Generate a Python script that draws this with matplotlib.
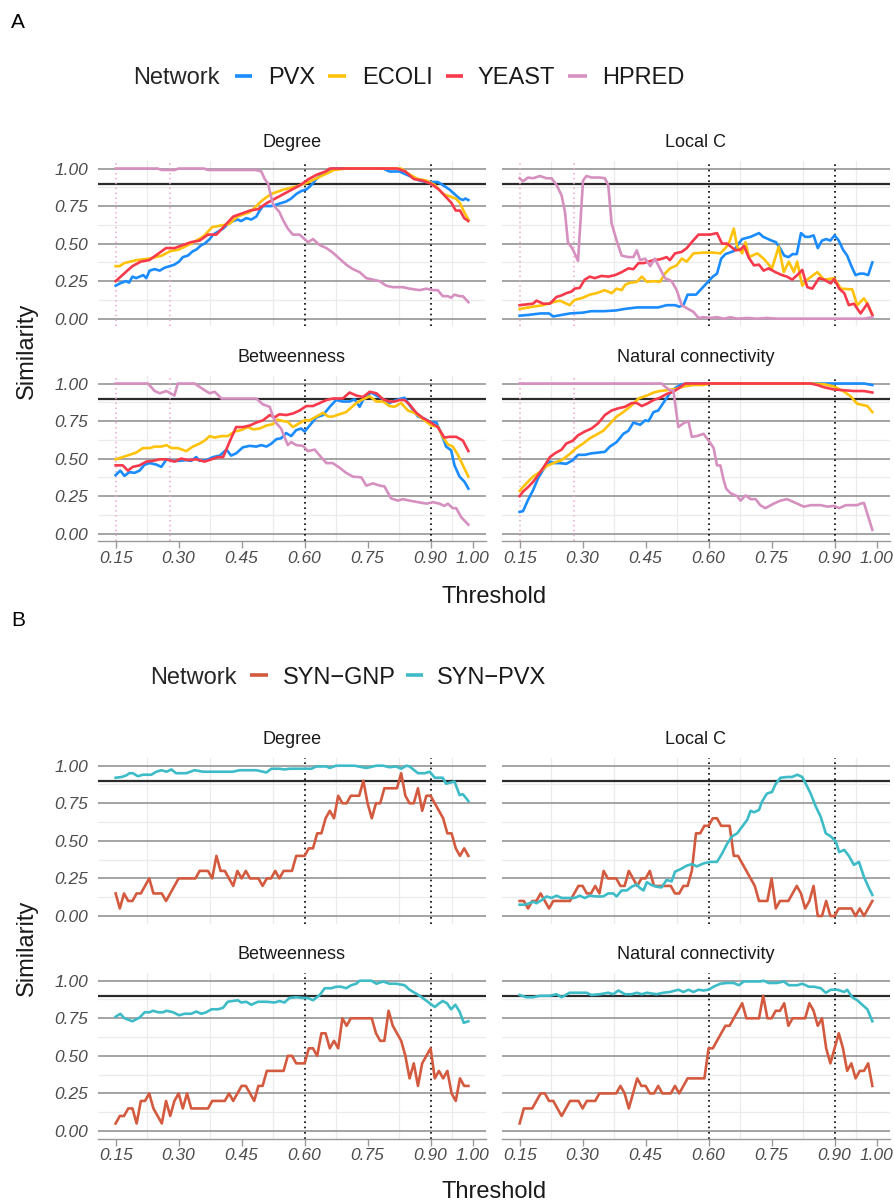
import numpy as np
import matplotlib.pyplot as plt
from matplotlib.lines import Line2D

plt.rcParams['font.family'] = ['Liberation Sans', 'DejaVu Sans']

# ---------------- panel A data (threshold, similarity) ----------------
deg_pvx_t = [0.15,0.164,0.175,0.182,0.190,0.199,0.207,0.216,0.223,0.231,0.243,0.255,0.267,0.279,0.290,0.301,0.310,0.322,0.334,0.342,0.354,0.362,0.374,0.382,0.394,0.406,0.417,0.429,0.441,0.449,0.461,0.473,0.485,0.493,0.501,0.521,0.533,0.544,0.556,0.568,0.580,0.592,0.604,0.616,0.628,0.640,0.652,0.667,0.683,0.787,0.802,0.826,0.842,0.858,0.874,0.890,0.902,0.917,0.929,0.945,0.957,0.969,0.977,0.983,0.99]
deg_pvx_v = [0.22,0.24,0.25,0.24,0.28,0.27,0.28,0.29,0.27,0.32,0.33,0.32,0.34,0.35,0.36,0.38,0.41,0.42,0.45,0.46,0.49,0.50,0.53,0.56,0.58,0.60,0.63,0.65,0.66,0.65,0.67,0.66,0.68,0.72,0.75,0.75,0.76,0.77,0.78,0.80,0.83,0.85,0.86,0.89,0.93,0.96,0.98,1.00,1.00,1.00,0.98,0.98,0.96,0.94,0.92,0.91,0.91,0.91,0.89,0.86,0.83,0.80,0.79,0.80,0.79]
deg_eco_t = [0.15,0.16,0.17,0.20,0.23,0.26,0.28,0.30,0.33,0.36,0.38,0.40,0.42,0.44,0.47,0.50,0.52,0.55,0.58,0.61,0.64,0.67,0.70,0.83,0.85,0.87,0.89,0.91,0.93,0.95,0.96,0.97,0.98,0.99]
deg_eco_v = [0.35,0.35,0.37,0.39,0.40,0.42,0.45,0.46,0.50,0.55,0.61,0.62,0.63,0.68,0.71,0.79,0.83,0.86,0.88,0.91,0.95,0.99,1.00,1.00,0.96,0.93,0.92,0.89,0.83,0.81,0.80,0.77,0.71,0.66]
deg_yst_t = [0.15,0.17,0.19,0.21,0.23,0.25,0.27,0.29,0.31,0.33,0.35,0.37,0.39,0.41,0.43,0.45,0.47,0.49,0.51,0.53,0.55,0.57,0.59,0.61,0.63,0.65,0.66,0.82,0.84,0.86,0.88,0.90,0.92,0.94,0.95,0.96,0.97,0.98,0.99]
deg_yst_v = [0.25,0.30,0.35,0.38,0.39,0.43,0.47,0.47,0.49,0.51,0.52,0.56,0.56,0.62,0.68,0.70,0.72,0.73,0.77,0.80,0.83,0.86,0.89,0.93,0.96,0.98,1.00,1.00,0.98,0.93,0.92,0.90,0.86,0.80,0.77,0.72,0.72,0.67,0.65]
deg_hpr_t = [0.15,0.25,0.26,0.29,0.30,0.36,0.37,0.485,0.497,0.505,0.513,0.517,0.525,0.54,0.548,0.56,0.572,0.588,0.608,0.62,0.636,0.652,0.667,0.683,0.699,0.715,0.731,0.747,0.763,0.779,0.794,0.81,0.834,0.85,0.874,0.89,0.906,0.917,0.929,0.941,0.949,0.957,0.969,0.977,0.99]
deg_hpr_v = [1.0,1.0,0.99,0.99,1.0,1.0,0.99,0.99,0.98,0.93,0.90,0.85,0.76,0.71,0.66,0.60,0.56,0.56,0.51,0.53,0.49,0.47,0.44,0.40,0.36,0.33,0.31,0.27,0.26,0.25,0.22,0.21,0.21,0.20,0.19,0.20,0.19,0.19,0.15,0.15,0.14,0.16,0.15,0.15,0.11]

lc_pvx_t = [0.15,0.17,0.20,0.22,0.23,0.25,0.27,0.30,0.32,0.35,0.38,0.40,0.43,0.45,0.48,0.50,0.52,0.53,0.54,0.55,0.57,0.58,0.60,0.61,0.62,0.63,0.64,0.66,0.67,0.68,0.70,0.72,0.73,0.75,0.76,0.77,0.78,0.79,0.80,0.81,0.82,0.83,0.84,0.85,0.86,0.87,0.88,0.89,0.90,0.91,0.92,0.93,0.94,0.95,0.96,0.97,0.98,0.99]
lc_pvx_v = [0.02,0.025,0.035,0.035,0.015,0.025,0.035,0.04,0.05,0.05,0.055,0.065,0.075,0.075,0.075,0.09,0.09,0.08,0.09,0.16,0.16,0.19,0.25,0.28,0.30,0.40,0.43,0.45,0.495,0.53,0.545,0.57,0.545,0.52,0.51,0.47,0.42,0.41,0.43,0.43,0.57,0.545,0.545,0.555,0.47,0.52,0.53,0.52,0.555,0.52,0.46,0.42,0.35,0.29,0.30,0.30,0.29,0.375]
lc_eco_t = [0.15,0.182,0.206,0.230,0.246,0.269,0.281,0.301,0.317,0.333,0.353,0.369,0.381,0.393,0.401,0.413,0.429,0.441,0.453,0.469,0.484,0.496,0.508,0.524,0.536,0.548,0.564,0.588,0.612,0.628,0.640,0.648,0.660,0.668,0.680,0.688,0.696,0.716,0.731,0.751,0.767,0.779,0.791,0.803,0.811,0.823,0.835,0.859,0.875,0.899,0.915,0.942,0.954,0.970,0.978,0.99]
lc_eco_v = [0.065,0.08,0.09,0.11,0.12,0.09,0.125,0.14,0.16,0.17,0.19,0.17,0.20,0.19,0.225,0.24,0.245,0.28,0.245,0.25,0.245,0.30,0.335,0.355,0.40,0.38,0.435,0.44,0.44,0.435,0.47,0.50,0.60,0.48,0.435,0.51,0.41,0.435,0.40,0.335,0.48,0.31,0.38,0.31,0.38,0.22,0.26,0.31,0.26,0.27,0.20,0.195,0.09,0.135,0.10,0.025]
lc_yst_t = [0.15,0.166,0.182,0.190,0.206,0.222,0.238,0.250,0.261,0.273,0.281,0.293,0.305,0.317,0.329,0.345,0.361,0.377,0.393,0.409,0.421,0.433,0.445,0.457,0.469,0.484,0.500,0.508,0.520,0.536,0.548,0.560,0.576,0.588,0.604,0.620,0.632,0.644,0.664,0.676,0.684,0.696,0.708,0.720,0.731,0.743,0.759,0.775,0.787,0.799,0.811,0.823,0.835,0.847,0.863,0.875,0.891,0.899,0.911,0.923,0.934,0.946,0.962,0.978,0.99]
lc_yst_v = [0.09,0.095,0.10,0.12,0.10,0.10,0.145,0.155,0.17,0.18,0.20,0.205,0.26,0.28,0.27,0.285,0.28,0.29,0.31,0.335,0.33,0.37,0.37,0.38,0.39,0.395,0.41,0.39,0.435,0.445,0.47,0.51,0.56,0.56,0.56,0.57,0.50,0.50,0.455,0.46,0.485,0.405,0.355,0.36,0.32,0.335,0.31,0.29,0.28,0.26,0.29,0.325,0.21,0.20,0.27,0.26,0.235,0.265,0.20,0.17,0.09,0.10,0.035,0.10,0.025]
lc_hpr_t = [0.15,0.158,0.170,0.182,0.198,0.214,0.226,0.238,0.250,0.258,0.265,0.277,0.289,0.301,0.309,0.321,0.341,0.353,0.361,0.369,0.381,0.393,0.409,0.421,0.429,0.437,0.449,0.461,0.472,0.484,0.496,0.512,0.524,0.536,0.548,0.564,0.576,0.588,0.604,0.620,0.636,0.652,0.668,0.692,0.716,0.739,0.763,0.946,0.970,0.99]
lc_hpr_v = [0.935,0.915,0.94,0.935,0.95,0.935,0.935,0.89,0.82,0.71,0.51,0.46,0.385,0.92,0.95,0.94,0.94,0.935,0.89,0.635,0.52,0.42,0.41,0.41,0.455,0.39,0.40,0.35,0.40,0.335,0.27,0.25,0.19,0.09,0.07,0.045,0.005,0.01,0.005,0.01,0.0,0.01,0.0,0.005,0.0,0.005,0.0,0.0,0.0,0.01]

btw_pvx_t = [0.15,0.161,0.171,0.183,0.195,0.207,0.219,0.231,0.247,0.259,0.271,0.287,0.302,0.318,0.330,0.342,0.350,0.366,0.382,0.398,0.414,0.425,0.437,0.453,0.469,0.485,0.497,0.509,0.521,0.533,0.544,0.556,0.568,0.580,0.592,0.600,0.612,0.628,0.644,0.660,0.675,0.691,0.707,0.719,0.731,0.743,0.759,0.771,0.787,0.802,0.818,0.838,0.850,0.870,0.886,0.898,0.914,0.925,0.937,0.949,0.957,0.969,0.981,0.99]
btw_pvx_v = [0.39,0.42,0.385,0.41,0.405,0.42,0.46,0.47,0.46,0.445,0.495,0.485,0.485,0.49,0.485,0.51,0.485,0.49,0.51,0.52,0.56,0.52,0.535,0.575,0.585,0.58,0.59,0.58,0.60,0.63,0.635,0.67,0.65,0.69,0.70,0.68,0.72,0.775,0.79,0.845,0.89,0.88,0.88,0.895,0.845,0.91,0.94,0.92,0.895,0.87,0.89,0.905,0.855,0.78,0.765,0.745,0.74,0.67,0.58,0.555,0.455,0.38,0.345,0.30]
btw_eco_t = [0.15,0.167,0.183,0.199,0.215,0.231,0.243,0.259,0.271,0.283,0.298,0.318,0.334,0.350,0.362,0.374,0.386,0.402,0.417,0.433,0.449,0.465,0.477,0.493,0.509,0.525,0.536,0.548,0.560,0.572,0.584,0.600,0.612,0.628,0.644,0.656,0.667,0.683,0.699,0.711,0.723,0.739,0.755,0.771,0.787,0.802,0.814,0.830,0.846,0.862,0.874,0.890,0.902,0.917,0.929,0.941,0.953,0.965,0.977,0.99]
btw_eco_v = [0.495,0.51,0.525,0.54,0.57,0.57,0.58,0.58,0.59,0.57,0.57,0.55,0.58,0.60,0.62,0.65,0.64,0.65,0.65,0.68,0.69,0.71,0.695,0.70,0.72,0.73,0.76,0.75,0.745,0.71,0.73,0.755,0.755,0.78,0.805,0.78,0.78,0.795,0.81,0.84,0.87,0.895,0.915,0.88,0.88,0.85,0.845,0.87,0.82,0.805,0.78,0.745,0.72,0.715,0.645,0.595,0.58,0.525,0.455,0.38]
btw_yst_t = [0.15,0.167,0.179,0.191,0.207,0.223,0.239,0.255,0.271,0.290,0.306,0.322,0.342,0.362,0.378,0.394,0.406,0.421,0.437,0.453,0.469,0.485,0.501,0.517,0.529,0.540,0.556,0.572,0.588,0.604,0.620,0.636,0.652,0.667,0.691,0.707,0.723,0.739,0.755,0.771,0.787,0.802,0.814,0.826,0.838,0.850,0.866,0.882,0.898,0.917,0.933,0.945,0.961,0.977,0.99]
btw_yst_v = [0.455,0.455,0.42,0.445,0.455,0.48,0.485,0.495,0.495,0.48,0.50,0.49,0.495,0.48,0.495,0.51,0.51,0.61,0.71,0.71,0.72,0.74,0.755,0.79,0.775,0.795,0.79,0.80,0.82,0.85,0.85,0.87,0.89,0.90,0.90,0.94,0.92,0.91,0.945,0.935,0.895,0.88,0.88,0.89,0.89,0.86,0.805,0.77,0.745,0.71,0.64,0.645,0.645,0.62,0.55]
btw_hpr_t = [0.15,0.227,0.243,0.255,0.271,0.290,0.298,0.338,0.362,0.374,0.386,0.402,0.485,0.501,0.517,0.525,0.533,0.544,0.560,0.568,0.580,0.596,0.608,0.624,0.636,0.652,0.667,0.683,0.699,0.715,0.735,0.747,0.763,0.779,0.790,0.806,0.822,0.834,0.850,0.870,0.890,0.906,0.921,0.933,0.941,0.953,0.961,0.973,0.99]
btw_hpr_v = [1.0,1.0,0.95,0.935,0.95,0.92,1.0,1.0,0.955,0.935,0.945,0.90,0.90,0.86,0.845,0.775,0.735,0.70,0.59,0.61,0.59,0.585,0.55,0.56,0.52,0.47,0.47,0.44,0.405,0.38,0.375,0.32,0.335,0.32,0.315,0.235,0.22,0.23,0.22,0.21,0.20,0.21,0.20,0.185,0.20,0.17,0.17,0.11,0.06]

nc_pvx_t = [0.15,0.158,0.170,0.182,0.194,0.206,0.222,0.234,0.246,0.261,0.277,0.289,0.305,0.321,0.337,0.353,0.365,0.381,0.397,0.409,0.421,0.437,0.449,0.457,0.469,0.480,0.492,0.508,0.520,0.536,0.556,0.970,0.99]
nc_pvx_v = [0.145,0.15,0.225,0.29,0.37,0.425,0.48,0.47,0.47,0.465,0.49,0.525,0.525,0.535,0.54,0.545,0.58,0.61,0.665,0.685,0.74,0.725,0.755,0.75,0.81,0.82,0.87,0.935,0.97,0.995,1.0,1.0,0.99]
nc_eco_t = [0.15,0.166,0.182,0.198,0.214,0.230,0.250,0.269,0.285,0.301,0.317,0.333,0.349,0.361,0.381,0.397,0.413,0.433,0.453,0.469,0.484,0.500,0.524,0.540,0.564,0.588,0.604,0.843,0.875,0.899,0.923,0.938,0.954,0.970,0.978,0.99]
nc_eco_v = [0.285,0.335,0.38,0.41,0.45,0.47,0.49,0.53,0.57,0.60,0.635,0.66,0.685,0.72,0.78,0.81,0.845,0.90,0.92,0.94,0.95,0.955,0.965,0.98,0.99,0.99,1.0,1.0,0.995,0.98,0.945,0.915,0.865,0.855,0.85,0.81]
nc_yst_t = [0.15,0.158,0.170,0.182,0.194,0.210,0.222,0.234,0.250,0.261,0.277,0.289,0.305,0.321,0.337,0.353,0.369,0.385,0.401,0.417,0.429,0.441,0.453,0.469,0.484,0.500,0.516,0.532,0.544,0.843,0.859,0.875,0.899,0.923,0.946,0.970,0.99]
nc_yst_v = [0.25,0.28,0.31,0.345,0.39,0.455,0.51,0.535,0.56,0.60,0.62,0.655,0.68,0.70,0.735,0.79,0.82,0.835,0.845,0.87,0.87,0.85,0.865,0.89,0.905,0.93,0.945,0.975,1.0,1.0,0.99,0.975,0.96,0.955,0.95,0.95,0.94]
nc_hpr_t = [0.15,0.488,0.496,0.508,0.516,0.528,0.540,0.552,0.560,0.572,0.588,0.600,0.612,0.620,0.628,0.636,0.642,0.652,0.668,0.676,0.688,0.700,0.712,0.723,0.735,0.755,0.771,0.787,0.803,0.827,0.843,0.867,0.883,0.899,0.911,0.927,0.954,0.962,0.970,0.99]
nc_hpr_v = [1.0,1.0,0.98,0.955,0.955,0.71,0.735,0.75,0.645,0.65,0.665,0.62,0.57,0.455,0.455,0.355,0.30,0.27,0.25,0.22,0.255,0.23,0.23,0.19,0.17,0.20,0.22,0.23,0.21,0.18,0.19,0.19,0.18,0.185,0.17,0.19,0.19,0.20,0.205,0.025]

# ---------------- panel B data ----------------
thresholds = np.round(np.arange(0.15, 0.995, 0.01), 2)  # 0.15 ... 0.99
gnp_deg = [0.15,0.05,0.15,0.10,0.10,0.15,0.15,0.20,0.25,0.15,
           0.15,0.15,0.10,0.15,0.20,0.25,0.25,0.25,0.25,0.25,
           0.30,0.30,0.30,0.25,0.40,0.30,0.30,0.25,0.20,0.30,
           0.25,0.30,0.25,0.25,0.25,0.20,0.25,0.25,0.30,0.25,
           0.30,0.30,0.30,0.40,0.40,0.40,0.45,0.45,0.55,0.55,
           0.65,0.70,0.65,0.80,0.75,0.75,0.80,0.80,0.80,0.90,
           0.75,0.65,0.75,0.75,0.85,0.85,0.85,0.85,0.95,0.80,
           0.75,0.75,0.85,0.70,0.80,0.80,0.75,0.70,0.65,0.55,
           0.55,0.45,0.40,0.45,0.40]
gnp_lc = [0.10,0.10,0.05,0.10,0.10,0.15,0.10,0.05,0.10,0.10,
          0.10,0.10,0.10,0.15,0.20,0.20,0.15,0.15,0.20,0.15,
          0.30,0.25,0.25,0.25,0.20,0.20,0.30,0.25,0.20,0.25,
          0.25,0.30,0.20,0.20,0.20,0.20,0.20,0.15,0.15,0.20,
          0.20,0.30,0.55,0.55,0.60,0.60,0.65,0.65,0.60,0.60,
          0.60,0.40,0.40,0.35,0.30,0.25,0.20,0.10,0.10,0.10,
          0.25,0.05,0.10,0.10,0.10,0.15,0.20,0.15,0.05,0.10,
          0.20,0.00,0.00,0.10,0.00,0.00,0.05,0.05,0.05,0.05,
          0.00,0.05,0.00,0.05,0.10]
gnp_btw = [0.05,0.10,0.10,0.15,0.15,0.05,0.20,0.20,0.25,0.15,
           0.10,0.05,0.20,0.10,0.20,0.25,0.15,0.25,0.15,0.15,
           0.15,0.15,0.15,0.20,0.20,0.20,0.20,0.25,0.20,0.25,
           0.30,0.30,0.25,0.20,0.30,0.30,0.40,0.40,0.40,0.40,
           0.40,0.50,0.50,0.45,0.45,0.45,0.55,0.55,0.50,0.65,
           0.65,0.55,0.60,0.55,0.75,0.70,0.75,0.75,0.75,0.75,
           0.75,0.75,0.65,0.60,0.60,0.80,0.70,0.65,0.60,0.50,
           0.35,0.45,0.30,0.45,0.50,0.55,0.35,0.40,0.35,0.40,
           0.25,0.20,0.35,0.30,0.30]
gnp_nc = [0.05,0.15,0.15,0.15,0.20,0.25,0.25,0.20,0.20,0.15,
          0.10,0.15,0.20,0.20,0.20,0.15,0.20,0.20,0.20,0.25,
          0.25,0.25,0.25,0.25,0.30,0.25,0.15,0.25,0.35,0.30,
          0.30,0.25,0.25,0.30,0.25,0.25,0.25,0.30,0.25,0.30,
          0.35,0.35,0.35,0.35,0.35,0.55,0.55,0.60,0.65,0.70,
          0.70,0.75,0.80,0.85,0.75,0.75,0.75,0.75,0.90,0.75,
          0.75,0.80,0.80,0.85,0.70,0.75,0.75,0.75,0.75,0.85,
          0.80,0.70,0.75,0.55,0.45,0.55,0.65,0.55,0.40,0.45,
          0.35,0.40,0.40,0.45,0.30]

spvx_deg_t = [0.15,0.164,0.175,0.183,0.191,0.203,0.215,0.235,0.247,0.259,0.271,0.283,0.294,0.318,0.338,0.358,0.429,0.445,0.485,0.509,0.521,0.540,0.552,0.564,0.616,0.628,0.652,0.660,0.675,0.719,0.747,0.771,0.787,0.802,0.818,0.830,0.842,0.850,0.870,0.886,0.898,0.910,0.929,0.937,0.957,0.969,0.977,0.99]
spvx_deg_v = [0.92,0.925,0.935,0.95,0.95,0.93,0.94,0.94,0.96,0.97,0.96,0.975,0.95,0.95,0.97,0.96,0.96,0.97,0.97,0.955,0.98,0.98,0.975,0.98,0.98,0.995,0.995,0.985,1.0,1.0,0.985,1.0,1.0,0.99,0.995,0.98,1.0,0.995,0.95,0.95,0.96,0.92,0.92,0.88,0.895,0.805,0.81,0.765]
spvx_lc_t = [0.15,0.162,0.174,0.182,0.190,0.202,0.214,0.226,0.238,0.250,0.269,0.281,0.293,0.305,0.317,0.333,0.349,0.361,0.373,0.381,0.393,0.405,0.417,0.429,0.437,0.445,0.453,0.465,0.476,0.488,0.500,0.512,0.520,0.532,0.548,0.560,0.572,0.588,0.604,0.620,0.632,0.644,0.656,0.668,0.680,0.692,0.700,0.708,0.720,0.727,0.739,0.751,0.759,0.771,0.787,0.799,0.811,0.823,0.835,0.843,0.855,0.867,0.879,0.891,0.903,0.911,0.923,0.934,0.946,0.958,0.970,0.982,0.99]
spvx_lc_v = [0.075,0.075,0.085,0.095,0.085,0.105,0.13,0.12,0.135,0.12,0.12,0.12,0.135,0.12,0.135,0.13,0.13,0.15,0.15,0.13,0.17,0.17,0.195,0.21,0.185,0.17,0.225,0.205,0.195,0.19,0.24,0.23,0.295,0.31,0.335,0.345,0.33,0.35,0.36,0.36,0.415,0.48,0.53,0.55,0.595,0.64,0.70,0.69,0.705,0.76,0.815,0.825,0.875,0.92,0.925,0.925,0.94,0.925,0.86,0.815,0.73,0.66,0.55,0.53,0.495,0.425,0.44,0.40,0.34,0.36,0.26,0.185,0.14]
spvx_btw_t = [0.15,0.161,0.171,0.190,0.207,0.219,0.231,0.239,0.251,0.263,0.271,0.287,0.301,0.314,0.330,0.342,0.354,0.366,0.378,0.394,0.406,0.417,0.429,0.441,0.449,0.461,0.473,0.489,0.509,0.529,0.540,0.552,0.564,0.580,0.596,0.608,0.620,0.636,0.648,0.664,0.675,0.687,0.699,0.711,0.723,0.731,0.759,0.771,0.787,0.802,0.818,0.838,0.850,0.862,0.874,0.886,0.898,0.910,0.921,0.929,0.939,0.949,0.959,0.969,0.979,0.99]
spvx_btw_v = [0.76,0.78,0.75,0.73,0.755,0.79,0.79,0.80,0.79,0.79,0.80,0.79,0.77,0.78,0.78,0.795,0.78,0.79,0.81,0.81,0.82,0.86,0.865,0.87,0.855,0.86,0.84,0.86,0.86,0.855,0.865,0.855,0.885,0.89,0.885,0.885,0.87,0.905,0.95,0.95,0.96,0.96,0.95,0.97,0.98,1.0,1.0,0.98,0.995,0.98,0.98,0.97,0.94,0.92,0.90,0.875,0.85,0.825,0.85,0.865,0.85,0.81,0.84,0.795,0.72,0.73]
spvx_nc_t = [0.15,0.166,0.182,0.198,0.222,0.238,0.250,0.269,0.309,0.321,0.341,0.361,0.373,0.385,0.401,0.417,0.429,0.441,0.453,0.476,0.492,0.508,0.528,0.540,0.552,0.564,0.576,0.588,0.600,0.612,0.628,0.644,0.660,0.672,0.684,0.723,0.731,0.743,0.763,0.779,0.791,0.811,0.823,0.839,0.851,0.867,0.879,0.891,0.907,0.923,0.930,0.942,0.954,0.966,0.978,0.99]
spvx_nc_v = [0.905,0.89,0.89,0.90,0.90,0.91,0.89,0.92,0.92,0.905,0.91,0.92,0.91,0.935,0.91,0.91,0.92,0.91,0.92,0.91,0.92,0.925,0.94,0.925,0.94,0.925,0.94,0.935,0.94,0.96,0.98,0.985,0.985,0.97,0.995,0.995,1.0,0.985,0.985,0.995,0.97,0.97,0.98,0.96,0.96,0.95,0.92,0.94,0.94,0.925,0.94,0.89,0.87,0.84,0.81,0.73]

networks_a = ['PVX', 'ECOLI', 'YEAST', 'HPRED']
colors_a = ['#1a8cff', '#ffc20a', '#f7394b', '#d690c0']
networks_b = ['SYN\u2212GNP', 'SYN\u2212PVX']
colors_b = ['#d35a3e', '#3dbcc7']
x_breaks = [0.15, 0.30, 0.45, 0.60, 0.75, 0.90, 1.00]
x_labels = ['0.15', '0.30', '0.45', '0.60', '0.75', '0.90', '1.00']
x_minor = [0.225, 0.375, 0.525, 0.675, 0.825, 0.95]
y_breaks = [0.0, 0.25, 0.5, 0.75, 1.0]
y_labels = ['0.00', '0.25', '0.50', '0.75', '1.00']
y_minor = [0.125, 0.375, 0.625, 0.875]
pink_cut = [0.15, 0.28]

W, H = 895, 1202
fig = plt.figure(figsize=(W / 100, H / 100), dpi=100)
TXT = '#1a1a1a'
TICK = '#4d4d4d'


def axes_px(x0, y0, x1, y1):
    return fig.add_axes([x0 / W, 1 - y1 / H, (x1 - x0) / W, (y1 - y0) / H])


def facet(ax, title, series, colors, left, bottom, pink):
    ax.set_xlim(0.108, 1.032)
    ax.set_ylim(-0.05, 1.05)
    for s in ax.spines.values():
        s.set_visible(False)
    for y in y_minor:
        ax.axhline(y, color='#ebebeb', lw=0.9, zorder=0)
    for x in x_minor:
        ax.axvline(x, color='#ebebeb', lw=0.9, zorder=0)
    for y in y_breaks:
        ax.axhline(y, color='#8c8c8c', lw=1.1, zorder=0.5)
    ax.axhline(0.9, color='#2b2b2b', lw=1.6, zorder=1)
    for x in (0.6, 0.9):
        ax.axvline(x, color='black', lw=1.2, ls=(0, (1, 2.2)), zorder=1)
    if pink:
        for x in pink_cut:
            ax.axvline(x, color='#eaa6cf', lw=1.1, ls=(0, (1, 2.2)), zorder=1)
    for (t, v), c in zip(series, colors):
        ax.plot(t, v, color=c, lw=1.9, solid_joinstyle='round', zorder=3)

    ax.set_xticks(x_breaks)
    ax.set_yticks(y_breaks)
    ax.tick_params(which='both', length=0)
    if left:
        ax.set_yticklabels(y_labels, fontsize=12.5, color=TICK, style='italic')
        ax.tick_params(axis='y', pad=7)
    else:
        ax.set_yticklabels([])
    if bottom:
        ax.spines['bottom'].set_visible(True)
        ax.spines['bottom'].set_color('#9a9a9a')
        ax.spines['bottom'].set_linewidth(1.0)
        ax.tick_params(axis='x', length=5, color='#9a9a9a', width=1.0, pad=2)
        ax.set_xticklabels(x_labels, fontsize=12.5, color=TICK, style='italic')
    else:
        ax.set_xticklabels([])
    ax.text(0.5, 1 + 19 / 165.4, title, transform=ax.transAxes, ha='center',
            va='center', fontsize=13, color=TXT)


cols = [(98, 486), (502, 890)]

# ---------------- panel A ----------------
rows_a = [(161, 326.2), (376, 541.2)]
facets_a = [
    ('Degree', [(deg_pvx_t, deg_pvx_v), (deg_eco_t, deg_eco_v), (deg_yst_t, deg_yst_v), (deg_hpr_t, deg_hpr_v)]),
    ('Local C', [(lc_pvx_t, lc_pvx_v), (lc_eco_t, lc_eco_v), (lc_yst_t, lc_yst_v), (lc_hpr_t, lc_hpr_v)]),
    ('Betweenness', [(btw_pvx_t, btw_pvx_v), (btw_eco_t, btw_eco_v), (btw_yst_t, btw_yst_v), (btw_hpr_t, btw_hpr_v)]),
    ('Natural connectivity', [(nc_pvx_t, nc_pvx_v), (nc_eco_t, nc_eco_v), (nc_yst_t, nc_yst_v), (nc_hpr_t, nc_hpr_v)]),
]
for i, (title, series) in enumerate(facets_a):
    r, c = divmod(i, 2)
    ax = axes_px(cols[c][0], rows_a[r][0], cols[c][1], rows_a[r][1])
    facet(ax, title, series, colors_a, c == 0, r == 1, True)

# ---------------- panel B ----------------
rows_b = [(758.2, 923.5), (973.2, 1138.5)]
facets_b = [
    ('Degree', [(thresholds, gnp_deg), (spvx_deg_t, spvx_deg_v)]),
    ('Local C', [(thresholds, gnp_lc), (spvx_lc_t, spvx_lc_v)]),
    ('Betweenness', [(thresholds, gnp_btw), (spvx_btw_t, spvx_btw_v)]),
    ('Natural connectivity', [(thresholds, gnp_nc), (spvx_nc_t, spvx_nc_v)]),
]
for i, (title, series) in enumerate(facets_b):
    r, c = divmod(i, 2)
    ax = axes_px(cols[c][0], rows_b[r][0], cols[c][1], rows_b[r][1])
    facet(ax, title, series, colors_b, c == 0, r == 1, False)


# ---------------- labels & legends ----------------
def fx(px):
    return px / W


def fy(py):
    return 1 - py / H


def legend_row(y, title_x, keys, label_xs, names, colors):
    fig.text(fx(title_x), fy(y + 8.5), 'Network', fontsize=17, color='#262626', va='baseline')
    for (k0, k1), lx, name, col in zip(keys, label_xs, names, colors):
        fig.add_artist(Line2D([fx(k0), fx(k1)], [fy(y), fy(y)], transform=fig.transFigure,
                              color=col, lw=2.6, solid_capstyle='butt'))
        fig.text(fx(lx), fy(y + 8.5), name, fontsize=17, color=TXT, va='baseline')


fig.text(fx(18), fy(22), 'A', fontsize=15, ha='center', va='center', color='black')
fig.text(fx(18), fy(620), 'B', fontsize=15, ha='center', va='center', color='black')

legend_row(76, 133, [(235, 252), (328, 346), (446, 463), (568, 587)],
           [268, 362, 478, 602], networks_a, colors_a)
legend_row(675, 150, [(250, 268), (406, 423)], [283, 437], networks_b, colors_b)

for yc in (597, 1192):
    fig.text(fx(494), fy(yc), 'Threshold', fontsize=17, ha='center', va='center', color=TXT)
for yc in (351, 948):
    fig.text(fx(27), fy(yc), 'Similarity', fontsize=17, ha='center', va='center',
             rotation=90, color=TXT)

fig.savefig('out.png', dpi=100, facecolor='white')
